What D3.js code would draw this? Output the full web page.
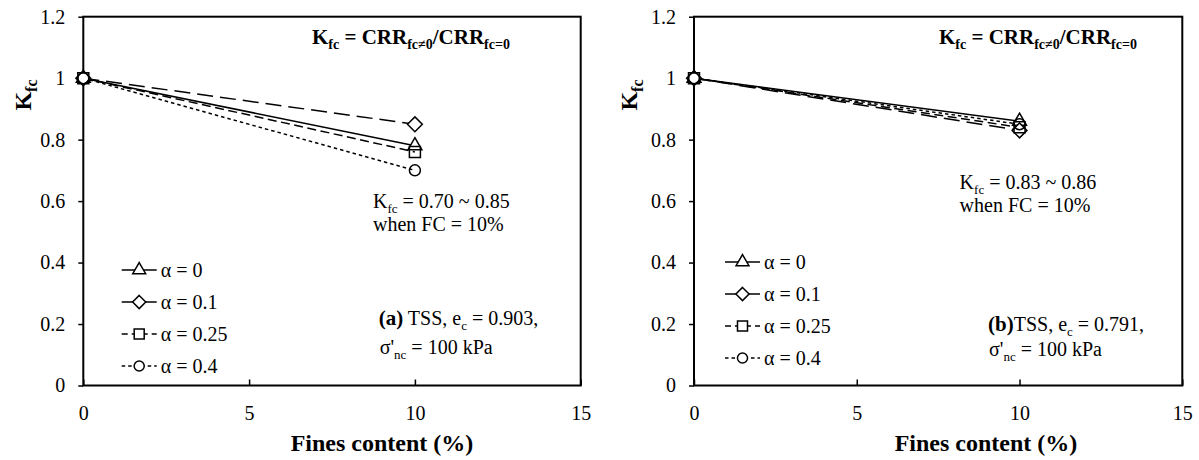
<html>
<head>
<meta charset="utf-8">
<script src="https://cdn.jsdelivr.net/npm/d3@7"></script>
<style>
  body { margin: 0; background: #fff; }
  svg { display: block; font-family: "Liberation Serif", "Times New Roman", serif; }
</style>
</head>
<body>
<svg id="chart" width="1199" height="460"></svg>
<script>
// data
var fines = [0, 10];
var alphas = ["α = 0", "α = 0.1", "α = 0.25", "α = 0.4"];
var kfcA = [[1, 0.78], [1, 0.85], [1, 0.76], [1, 0.70]];
var kfcB = [[1, 0.86], [1, 0.83], [1, 0.84], [1, 0.85]];
var xTicks = [0, 5, 10, 15];
var yTicks = [0, 0.2, 0.4, 0.6, 0.8, 1, 1.2];
var noteA = ["K_fc = 0.70 ~ 0.85", "when FC = 10%"];
var noteB = ["K_fc = 0.83 ~ 0.86", "when FC = 10%"];
var capA = ["(a)", " TSS, e_c = 0.903,"];
var capB = ["(b)", "TSS, e_c = 0.791,"];

var dashes = [null, "16,7", "9,4.5", "3.5,3"];
var shapes = [d3.symbolTriangle, d3.symbolDiamond2, d3.symbolSquare, d3.symbolCircle];
var sizes = [84, 140, 121, 95];
var legSizes = [72, 110, 100, 80];
var fills = ["#fff", "#fff", "none", "none"];

var panels = [
  {data: kfcA, note: noteA, cap: capA, left: 83.3, right: 580.7, eqX: 312,
   noteX: 373, noteY: [208, 231], capX: 378.7, capY: [325, 354],
   legX: 121.7, legY: 270, ylabX: 31, titleX: 382},
  {data: kfcB, note: noteB, cap: capB, left: 694, right: 1182.3, eqX: 939,
   noteX: 959.6, noteY: [189, 212], capX: 988, capY: [331, 356],
   legX: 725, legY: 262, ylabX: 637, titleX: 986}
];
var plotTop = 16.7, plotBottom = 385.5;

var svg = d3.select("#chart");

// text with "_xx" subscripts
function rich(g, x, y, str, size, bold) {
  var t = g.append("text").attr("x", x).attr("y", y)
           .attr("font-size", size).attr("font-weight", bold ? "bold" : "normal");
  addParts(t, str, size);
  return t;
}
function addParts(t, str, size) {
  var sub = Math.round(size * 0.65), shift = size * 0.25;
  var bits = str.split(/(_[^ /]+)/);
  var low = false;
  bits.forEach(function(b) {
    if (!b) return;
    if (b[0] === "_") {
      t.append("tspan").attr("font-size", sub).attr("dy", low ? 0 : shift).text(b.slice(1));
      low = true;
    } else {
      t.append("tspan").attr("dy", low ? -shift : 0).text(b);
      low = false;
    }
  });
}

function styleAxis(a) {
  a.attr("font-family", null).attr("font-size", null);
  a.select(".domain").remove();
  a.selectAll("line").attr("stroke", "#000").attr("stroke-width", 1.5);
  a.selectAll("text").attr("font-size", 20).attr("fill", "#000");
}

panels.forEach(function(p) {
  var g = svg.append("g");
  var x = d3.scaleLinear().domain([0, 15]).range([p.left, p.right]);
  var y = d3.scaleLinear().domain([0, 1.2]).range([plotBottom, plotTop]);

  g.append("g")
   .attr("transform", "translate(" + p.left + ",0)")
   .call(d3.axisLeft(y).tickValues(yTicks).tickSize(5).tickPadding(13).tickFormat(String))
   .call(styleAxis);

  g.append("g")
   .attr("transform", "translate(0," + plotBottom + ")")
   .call(d3.axisBottom(x).tickValues(xTicks).tickSize(-6).tickPadding(20).tickFormat(String))
   .call(styleAxis);

  g.append("rect")
   .attr("x", p.left).attr("y", plotTop)
   .attr("width", p.right - p.left).attr("height", plotBottom - plotTop)
   .attr("fill", "none").attr("stroke", "#000").attr("stroke-width", 2);

  var line = d3.line().x(function(d, i) { return x(fines[i]); }).y(function(d) { return y(d); });

  p.data.forEach(function(s, k) {
    g.append("path").attr("d", line(s))
     .attr("fill", "none").attr("stroke", "#000").attr("stroke-width", 1.5)
     .attr("stroke-dasharray", dashes[k]);
  });
  p.data.forEach(function(s, k) {
    s.forEach(function(v, i) {
      g.append("path")
       .attr("d", d3.symbol().type(shapes[k]).size(sizes[k])())
       .attr("transform", "translate(" + x(fines[i]) + "," + y(v) + ")")
       .attr("fill", fills[k]).attr("stroke", "#000").attr("stroke-width", 1.5);
    });
  });

  // legend
  alphas.forEach(function(lab, k) {
    var ly = p.legY + k * 32;
    g.append("line").attr("x1", p.legX).attr("x2", p.legX + 35)
     .attr("y1", ly).attr("y2", ly)
     .attr("stroke", "#000").attr("stroke-width", 1.5)
     .attr("stroke-dasharray", k === 2 ? "6,4" : k === 3 ? "3.5,3" : null);
    g.append("path")
     .attr("d", d3.symbol().type(shapes[k]).size(legSizes[k])())
     .attr("transform", "translate(" + (p.legX + 17.5) + "," + ly + ")")
     .attr("fill", "#fff").attr("stroke", "#000").attr("stroke-width", 1.5);
    g.append("text").attr("x", p.legX + 39).attr("y", ly + 7)
     .attr("font-size", 20).text(lab);
  });

  // equation
  rich(g, p.eqX, 44, "K_fc = CRR_fc≠0/CRR_fc=0", 21, true);

  // range note
  rich(g, p.noteX, p.noteY[0], p.note[0], 20, false);
  rich(g, p.noteX, p.noteY[1], p.note[1], 20, false);

  // caption
  var c = g.append("text").attr("x", p.capX).attr("y", p.capY[0]).attr("font-size", 20);
  c.append("tspan").attr("font-weight", "bold").attr("font-size", 21).text(p.cap[0]);
  addParts(c, p.cap[1], 20);
  rich(g, p.capX + 1, p.capY[1], "σ'_nc = 100 kPa", 20, false);

  // axis titles
  g.append("text").attr("x", p.titleX).attr("y", 451)
   .attr("text-anchor", "middle").attr("font-size", 24).attr("font-weight", "bold")
   .text("Fines content (%)");
  var yl = g.append("text")
   .attr("transform", "translate(" + p.ylabX + ",95) rotate(-90)")
   .attr("text-anchor", "middle").attr("font-size", 24).attr("font-weight", "bold");
  addParts(yl, "K_fc", 24);
});
</script>
</body>
</html>
